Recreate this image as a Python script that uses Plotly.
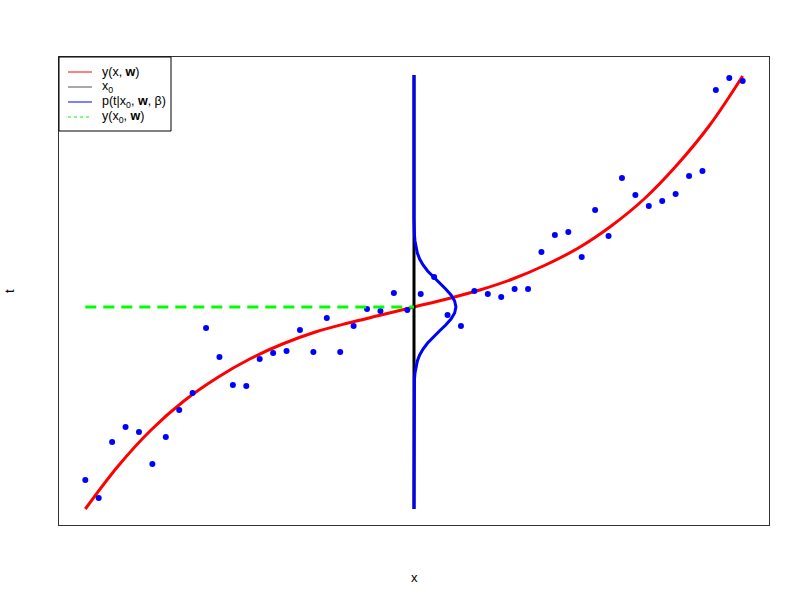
import plotly.graph_objects as go

# observed data points (x in [0,1], target t)
x_pts = [i / 49 for i in range(50)]
t_pts = [-1.80, -1.98, -1.42, -1.27, -1.32, -1.64, -1.37, -1.10, -0.93, -0.28,
         -0.57, -0.85, -0.86, -0.59, -0.53, -0.51, -0.30, -0.52, -0.18, -0.52,
         -0.26, -0.09, -0.11, 0.07, -0.10, 0.06, 0.23, -0.15, -0.26, 0.09,
         0.06, 0.03, 0.11, 0.11, 0.48, 0.65, 0.68, 0.43, 0.90, 0.64,
         1.22, 1.05, 0.94, 0.99, 1.06, 1.24, 1.29, 2.10, 2.22, 2.19]

# fitted curve y(x, w), sampled values
x_curve = [i / 20 for i in range(21)]
y_curve = [-2.09, -1.66, -1.30, -1.01, -0.78, -0.59, -0.44, -0.32, -0.23, -0.15,
           -0.07, 0.01, 0.10, 0.21, 0.35, 0.52, 0.74, 1.01, 1.35, 1.75, 2.24]

# x0 and prediction
x0 = 0.5
y_x0 = -0.07
t_low, t_high = -2.09, 2.25

# predictive density p(t|x0,w,beta): offsets from mean (t units) and widths (x units)
dens_offsets = [0.00, 0.06, 0.12, 0.18, 0.24, 0.30, 0.36, 0.42, 0.48, 0.54,
                0.60, 0.66, 0.72, 0.78, 0.84, 0.90]
dens_widths = [0.0638, 0.0618, 0.0563, 0.0482, 0.0387, 0.0292, 0.0207, 0.0138,
               0.0086, 0.0051, 0.0028, 0.0015, 0.0007, 0.0003, 0.0001, 0.0]

# legend entries
legend_labels = ["y(x, <b>w</b>)", "x<sub>0</sub>",
                 "p(t|x<sub>0</sub>, <b>w</b>, β)", "y(x<sub>0</sub>, <b>w</b>)"]
legend_colors = ["red", "#555555", "blue", "#00FF00"]
legend_dashes = ["solid", "solid", "solid", "3px,3px"]

g_t = [t_low]
g_x = [x0]
for o, w in zip(reversed(dens_offsets[1:]), reversed(dens_widths[1:])):
    g_t.append(y_x0 - o)
    g_x.append(x0 + w)
for o, w in zip(dens_offsets, dens_widths):
    g_t.append(y_x0 + o)
    g_x.append(x0 + w)
g_t.append(t_high)
g_x.append(x0)

fig = go.Figure()

fig.add_trace(go.Scatter(x=x_curve, y=y_curve, mode="lines",
                         line=dict(color="red", width=3, shape="spline"), hoverinfo="skip"))
fig.add_trace(go.Scatter(x=x_pts, y=t_pts, mode="markers",
                         marker=dict(color="blue", size=6)))
fig.add_trace(go.Scatter(x=[x0, x0], y=[t_low, t_high], mode="lines",
                         line=dict(color="black", width=3)))
fig.add_trace(go.Scatter(x=g_x, y=g_t, mode="lines", line=dict(color="blue", width=3)))
fig.add_trace(go.Scatter(x=[0, x0], y=[y_x0, y_x0], mode="lines",
                         line=dict(color="#00FF00", width=3, dash="11px,7px")))

# page body margin removed by post_script, so figure sits at (0, 0)
W, H = 800, 600
L, T = 59, 57
R = W - 769
B = H - 525
pw, ph = W - L - R, H - T - B

def px_x(p):
    return (p - L) / pw

def px_y(p):
    return 1 - (p - T) / ph

shapes = []
annotations = []
# legend box
shapes.append(dict(type="rect", xref="paper", yref="paper",
                   x0=px_x(59), x1=px_x(171), y0=px_y(131), y1=px_y(57),
                   line=dict(color="black", width=1), fillcolor="white", layer="above"))
row_y = [72, 87, 102, 117]
for lab, col, dsh, ry in zip(legend_labels, legend_colors, legend_dashes, row_y):
    shapes.append(dict(type="line", xref="paper", yref="paper",
                       x0=px_x(68), x1=px_x(92), y0=px_y(ry), y1=px_y(ry),
                       line=dict(color=col, width=1, dash=dsh), layer="above"))
    annotations.append(dict(text=lab, xref="paper", yref="paper", x=px_x(100), y=px_y(ry),
                            xanchor="left", yanchor="middle", showarrow=False,
                            font=dict(size=12.5)))

annotations.append(dict(text="x", xref="paper", yref="paper", x=px_x(414), y=px_y(577),
                        xanchor="center", yanchor="middle", showarrow=False, font=dict(size=13)))
annotations.append(dict(text="t", xref="paper", yref="paper", x=px_x(9), y=px_y(291),
                        xanchor="center", yanchor="middle", showarrow=False, textangle=-90,
                        font=dict(size=13)))

fig.update_layout(
    width=W, height=H,
    margin=dict(l=L, r=R, t=T, b=B),
    plot_bgcolor="white", paper_bgcolor="white",
    showlegend=False,
    font=dict(family="Liberation Sans, Arial, sans-serif", size=12, color="black"),
    shapes=shapes, annotations=annotations,
    xaxis=dict(range=[-0.04, 1.04], showgrid=False, zeroline=False, showticklabels=False,
               ticks="", showline=True, mirror=True, linecolor="#333", linewidth=1,
               automargin=False),
    yaxis=dict(range=[-2.25, 2.43], showgrid=False, zeroline=False, showticklabels=False,
               ticks="", showline=True, mirror=True, linecolor="#333", linewidth=1,
               automargin=False),
)

fig.write_html("out.html", config={"displayModeBar": False},
               post_script="document.body.style.margin='0';document.body.style.overflow='hidden';")
